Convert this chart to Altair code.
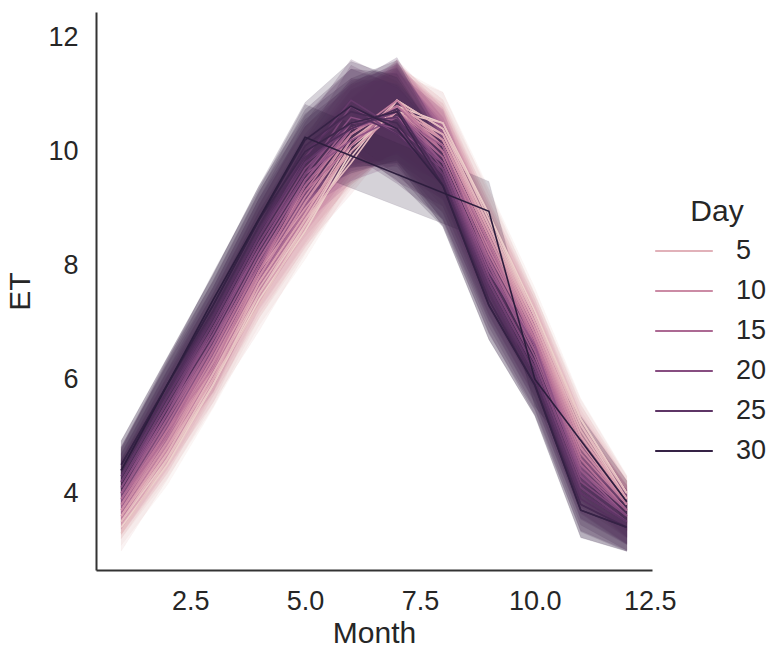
import altair as alt
import pandas as pd

months = [1, 2, 3, 4, 5, 6, 7, 8, 9, 10, 11, 12]
days = list(range(1, 32))

# mean ET per day (rows) and month (columns); None = no data
et_by_day = [
    [3.4, 4.5, 5.9, 7.4, 8.6, 10.0, 10.8, 10.5, 8.9, 7.2, 5.3, 4.0],
    [3.5, 4.6, 5.9, 7.5, 8.7, 9.9, 10.9, 10.4, 8.9, 7.1, 5.3, 4.0],
    [3.3, 4.6, 6.0, 7.3, 8.7, 10.1, 10.7, 10.5, 8.8, 7.1, 5.2, 3.9],
    [3.5, 4.7, 6.1, 7.5, 8.8, 9.8, 10.9, 10.4, 8.7, 7.1, 5.2, 4.0],
    [3.6, 4.7, 6.1, 7.6, 8.8, 10.1, 10.7, 10.3, 8.7, 7.0, 5.1, 3.9],
    [3.6, 4.8, 6.0, 7.7, 8.9, 10.2, 10.8, 10.3, 8.6, 7.0, 5.0, 3.9],
    [3.6, 4.8, 6.2, 7.7, 8.9, 10.1, 10.9, 10.2, 8.6, 6.9, 5.0, 3.9],
    [3.7, 4.9, 6.2, 7.9, 9.0, 10.0, 10.7, 10.2, 8.5, 6.9, 4.9, 3.8],
    [3.7, 4.9, 6.3, 7.8, 9.1, 10.3, 10.8, 10.2, 8.5, 6.8, 4.9, 3.8],
    [3.7, 5.0, 6.3, 7.8, 9.1, 10.2, 10.7, 10.1, 8.4, 6.8, 4.8, 3.8],
    [3.8, 5.0, 6.4, 7.9, 9.2, 10.3, 10.8, 10.1, 8.4, 6.7, 4.8, 3.8],
    [3.8, 5.1, 6.2, 7.9, 9.4, 10.3, 10.9, 10.0, 8.3, 6.7, 4.7, 3.8],
    [3.9, 5.1, 6.5, 8.0, 9.3, 10.4, 10.7, 10.0, 8.2, 6.7, 4.6, 3.7],
    [3.9, 5.0, 6.5, 8.0, 9.3, 10.1, 10.8, 10.0, 8.4, 6.6, 4.6, 3.7],
    [3.9, 5.2, 6.6, 8.1, 9.4, 10.4, 10.6, 9.9, 8.1, 6.6, 4.5, 3.7],
    [4.0, 5.3, 6.6, 8.1, 9.4, 10.4, 10.7, 9.9, 8.1, 6.5, 4.5, 3.7],
    [4.0, 5.3, 6.7, 8.0, 9.5, 10.5, 10.6, 10.1, 8.0, 6.5, 4.4, 3.7],
    [4.0, 5.4, 6.7, 8.2, 9.5, 10.4, 10.7, 9.8, 8.0, 6.4, 4.4, 3.6],
    [4.1, 5.4, 6.9, 8.3, 9.6, 10.2, 10.6, 9.8, 7.9, 6.6, 4.3, 3.6],
    [4.1, 5.5, 6.8, 8.3, 9.6, 10.6, 10.4, 9.8, 7.8, 6.3, 4.3, 3.6],
    [4.2, 5.5, 6.9, 8.4, 9.7, 10.5, 10.7, 9.7, 7.8, 6.3, 4.2, 3.6],
    [4.2, 5.6, 6.9, 8.4, 9.6, 10.8, 10.3, 9.7, 7.7, 6.2, 4.1, 3.5],
    [4.2, 5.6, 7.0, 8.5, 9.8, 10.4, 10.7, 9.6, 7.7, 6.2, 4.1, 3.5],
    [4.3, 5.7, 7.0, 8.5, 9.9, 10.9, 10.4, 9.6, 7.6, 6.1, 4.0, 3.5],
    [4.3, 5.7, 7.1, 8.6, 9.8, 10.5, 10.6, 9.5, 7.6, 6.1, 4.0, 3.5],
    [4.4, 5.8, 7.1, 8.6, 10.0, 10.7, 10.3, 9.5, 7.5, 6.0, 3.9, 3.4],
    [4.4, 5.8, 7.2, 8.7, 9.9, 10.4, 10.75, 9.5, 7.4, 6.0, 3.8, 3.4],
    [4.4, 5.9, 7.2, 8.7, 10.1, 10.7, 10.5, 9.4, 7.4, 5.9, 3.8, 3.4],
    [4.5, 5.9, 7.3, 8.8, 10.0, 10.5, 10.7, 9.4, 7.3, 5.9, 3.7, 3.4],
    [4.5, None, 7.3, 8.8, 10.2, 10.8, 10.4, 9.4, 7.3, 5.9, 3.7, 3.4],
    [4.4, None, 7.4, None, 10.25, None, None, None, 8.95, 6.0, None, 3.85],
]

# confidence band half-width per month, and per-day band scale
band_halfwidth = [0.35, 0.4, 0.45, 0.5, 0.55, 0.65, 0.75, 0.6, 0.5, 0.45, 0.4, 0.35]
band_scale = [0.9, 0.85, 0.9, 0.85, 0.9, 0.9, 0.95, 0.9, 0.95, 0.95,
              1.0, 0.95, 1.0, 1.0, 1.05, 1.0, 1.05, 1.05, 1.1, 1.05,
              1.1, 1.1, 1.15, 1.1, 1.15, 1.15, 1.2, 1.15, 1.2, 1.2, 1.05]

legend_values = [5, 10, 15, 20, 25, 30]
palette = ["#edd1cb", "#dba1b0", "#bb7599", "#8f5286", "#5e3566", "#2d1e3e"]

rows = []
for d, vals, s in zip(days, et_by_day, band_scale):
    for m, v, hw in zip(months, vals, band_halfwidth):
        if v is None:
            continue
        rows.append({"Day": d, "Month": m, "ET": v, "lo": v - hw * s, "hi": v + hw * s})
df = pd.DataFrame(rows)

color_scale = alt.Scale(domain=[1, 31], range=palette, interpolate="rgb")
x_scale = alt.Scale(domain=[0.45, 12.55], nice=False, zero=False)
y_scale = alt.Scale(domain=[2.65, 12.45], nice=False, zero=False)

x_enc = alt.X("Month:Q", scale=x_scale,
              axis=alt.Axis(values=[2.5, 5, 7.5, 10, 12.5], format=".1f", title="Month"))
y_axis = alt.Axis(values=[4, 6, 8, 10, 12], title="ET")

legend = alt.Legend(
    type="symbol",
    values=legend_values,
    title="Day",
    symbolType="M-2,0H2",
    symbolSize=830,
    symbolStrokeWidth=2.2,
    orient="none",
    legendX=572,
    legendY=185,
    titleAnchor="middle",
    titleFontSize=30,
    titleFontWeight="normal",
    titlePadding=8,
    labelFontSize=27,
    labelOffset=36,
    rowPadding=11,
    padding=0,
)

base = alt.Chart(df)

bands = base.mark_area(fillOpacity=0.2, strokeOpacity=0.08, strokeWidth=1).encode(
    x=x_enc,
    y=alt.Y("lo:Q", scale=y_scale, axis=y_axis),
    y2="hi:Q",
    color=alt.Color("Day:Q", scale=color_scale, legend=legend),
    stroke=alt.Stroke("Day:Q", scale=color_scale, legend=None),
    detail="Day:N",
)

lines = base.mark_line(strokeWidth=1.6).encode(
    x=x_enc,
    y=alt.Y("ET:Q", scale=y_scale, axis=y_axis),
    color=alt.Color("Day:Q", scale=color_scale, legend=legend),
    detail="Day:N",
)

chart = (
    alt.layer(bands, lines)
    .properties(
        width=556,
        height=558,
        autosize=alt.AutoSizeParams(type="none"),
        padding={"left": 96, "top": 12, "right": 117, "bottom": 81},
    )
    .configure(font="Liberation Sans")
    .configure_view(stroke=None)
    .configure_axis(
        grid=False,
        ticks=False,
        domainColor="#333333",
        domainWidth=2,
        labelFontSize=27,
        titleFontSize=30,
        titleFontWeight="normal",
        labelColor="#262626",
        titleColor="#262626",
        labelPadding=18,
    )
    .configure_axisX(titlePadding=4)
    .configure_axisY(titlePadding=12)
    .configure_legend(labelColor="#262626", titleColor="#262626")
)

chart.save("out.html", embed_options={"renderer": "svg", "actions": False})
